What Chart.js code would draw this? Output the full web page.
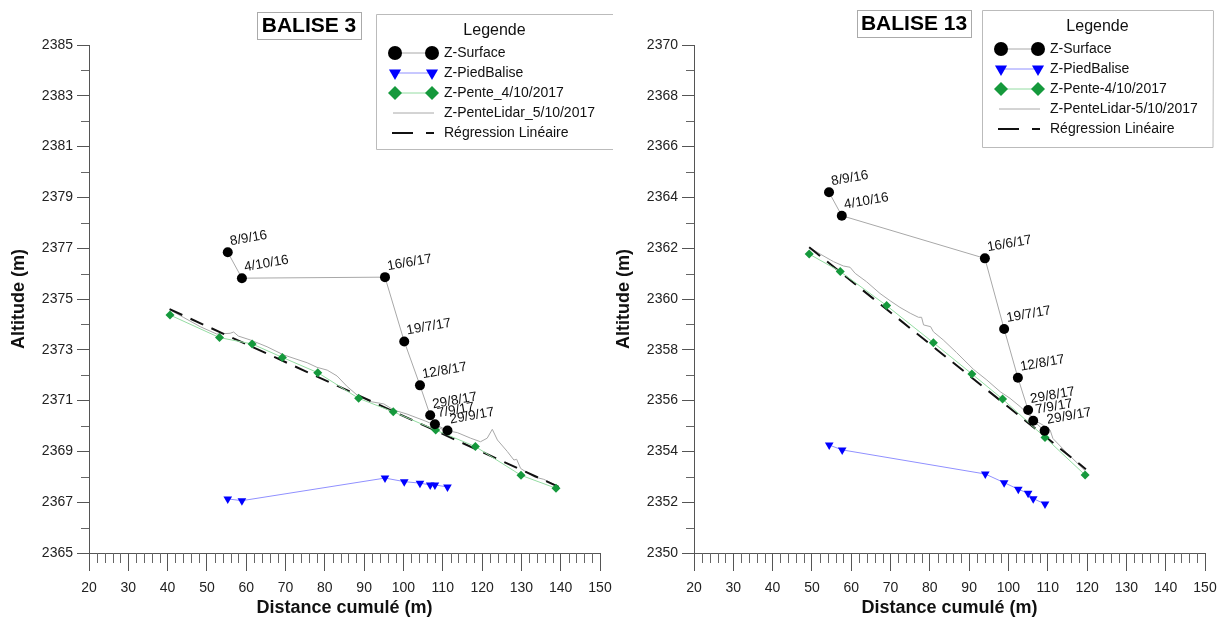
<!DOCTYPE html>
<html>
<head>
<meta charset="utf-8">
<script src="https://cdn.jsdelivr.net/npm/chart.js@4.4.1/dist/chart.umd.min.js"></script>
<style>
  body { margin: 0; background: #fff; }
  #wrap { position: relative; width: 1223px; height: 617px; overflow: hidden; }
  canvas { position: absolute; top: 0; }
</style>
</head>
<body>
<div id="wrap">
  <canvas id="balise3" width="621" height="617" style="left:0"></canvas>
  <canvas id="balise13" width="621" height="617" style="left:605px"></canvas>
</div>
<script>
// dates des relevés de surface (mêmes pour les deux balises)
const dates = ['8/9/16', '4/10/16', '16/6/17', '19/7/17', '12/8/17', '29/8/17', '7/9/17', '29/9/17'];

// ---- BALISE 3 ----
const b3SurfX = [55.3, 58.9, 95.3, 100.2, 104.2, 106.8, 108.0, 111.2];
const b3SurfY = [2376.84, 2375.82, 2375.86, 2373.33, 2371.60, 2370.42, 2370.07, 2369.82];
const b3PiedX = [55.3, 58.9, 95.3, 100.2, 104.2, 106.8, 108.0, 111.2];
const b3PiedY = [2367.13, 2367.06, 2367.95, 2367.81, 2367.75, 2367.68, 2367.68, 2367.60];
const b3PenteX = [40.6, 53.2, 61.5, 69.2, 78.2, 88.6, 97.4, 108.2, 118.3, 129.9, 138.8];
const b3PenteY = [2374.37, 2373.48, 2373.23, 2372.70, 2372.10, 2371.09, 2370.56, 2369.84, 2369.19, 2368.06, 2367.55];
const b3LidarX = [40.6, 44.0, 48.3, 52.5, 55.9, 56.8, 58.0, 61.0, 65.3, 69.5, 75.5, 78.0, 80.6, 83.1, 85.7, 88.2, 91.6, 95.0,
                  97.5, 100.9, 106.0, 110.3, 113.7, 117.1, 119.6, 121.3, 122.6, 123.9, 126.4, 128.1, 128.8, 129.8, 131.1, 133.2, 135.7, 139.2];
const b3LidarY = [2374.57, 2374.28, 2373.91, 2373.62, 2373.65, 2373.70, 2373.54, 2373.39, 2373.12, 2372.80, 2372.49, 2372.31, 2372.20,
                  2371.97, 2371.55, 2371.22, 2370.96, 2370.87, 2370.63, 2370.47, 2370.17, 2369.84, 2369.74, 2369.52, 2369.38, 2369.52,
                  2369.87, 2369.45, 2369.00, 2368.66, 2368.69, 2368.33, 2368.20, 2368.00, 2367.90, 2367.64];
const b3RegX = [40.5, 139.5];
const b3RegY = [2374.6, 2367.6];

// ---- BALISE 13 ----
const b13SurfX = [54.35, 57.6, 94.0, 98.9, 102.4, 105.0, 106.3, 109.2];
const b13SurfY = [2364.20, 2363.28, 2361.60, 2358.82, 2356.90, 2355.63, 2355.21, 2354.81];
const b13PiedX = [54.4, 57.7, 94.1, 98.9, 102.5, 105.0, 106.3, 109.3];
const b13PiedY = [2354.25, 2354.06, 2353.11, 2352.77, 2352.51, 2352.35, 2352.14, 2351.93];
const b13PenteX = [49.3, 57.2, 69.0, 80.9, 90.7, 98.5, 109.3, 119.5];
const b13PenteY = [2361.77, 2361.08, 2359.74, 2358.28, 2357.05, 2356.06, 2354.55, 2353.07];
const b13LidarX = [49.3, 52.1, 55.5, 58.0, 59.7, 61.0, 63.9, 67.3, 69.9, 72.4, 75.0, 77.1, 77.9, 78.4, 80.2, 80.9, 83.4, 86.8,
                   91.1, 94.5, 97.9, 100.4, 103.0, 106.3, 109.7, 110.6, 111.3, 114.8, 119.5];
const b13LidarY = [2362.04, 2361.77, 2361.47, 2361.30, 2361.25, 2361.01, 2360.68, 2360.22, 2359.93, 2359.67, 2359.44, 2359.28,
                   2359.28, 2358.98, 2358.91, 2358.71, 2358.39, 2357.89, 2357.23, 2356.81, 2356.35, 2356.09, 2355.76, 2355.26,
                   2354.95, 2354.84, 2354.51, 2353.95, 2353.24];
const b13RegX = [49.3, 119.7];
const b13RegY = [2362.04, 2353.3];

const FONT = '"Liberation Sans", Arial, sans-serif';
Chart.defaults.font.family = FONT;

function pts(xs, ys) {
  return xs.map((x, i) => ({ x: x, y: ys[i] }));
}

// petits traits secondaires sur les axes
const minorTicks = {
  id: 'minorTicks',
  afterDraw(chart) {
    const ctx = chart.ctx, xs = chart.scales.x, ys = chart.scales.y;
    ctx.save();
    ctx.strokeStyle = '#666';
    ctx.lineWidth = 1;
    ctx.beginPath();
    for (let v = xs.min + 2; v < xs.max; v += 2) {
      if (v % 10 === 0) continue;
      const px = Math.round(xs.getPixelForValue(v)) + 0.5;
      ctx.moveTo(px, xs.top);
      ctx.lineTo(px, xs.top + 10);
    }
    for (let v = ys.min + 1; v < ys.max; v += 2) {
      const py = Math.round(ys.getPixelForValue(v)) + 0.5;
      ctx.moveTo(ys.right - 8, py);
      ctx.lineTo(ys.right, py);
    }
    ctx.stroke();
    ctx.restore();
  }
};

// dates à côté des points Z-Surface
const dateLabels = {
  id: 'dateLabels',
  afterDatasetsDraw(chart, args, o) {
    const meta = chart.getDatasetMeta(0);
    const ctx = chart.ctx;
    ctx.save();
    ctx.font = '13.5px ' + FONT;
    ctx.fillStyle = '#111';
    ctx.textAlign = 'left';
    ctx.textBaseline = 'alphabetic';
    meta.data.forEach((pt, i) => {
      ctx.save();
      ctx.translate(pt.x + 3, pt.y - 7);
      ctx.rotate(-10 * Math.PI / 180);
      ctx.fillText(o.labels[i], 0, 0);
      ctx.restore();
    });
    ctx.restore();
  }
};

// titre encadré + légende
const overlay = {
  id: 'overlay',
  afterDraw(chart, args, o) {
    const ctx = chart.ctx;
    const ds = chart.data.datasets;
    ctx.save();
    // titre
    const t = o.titleBox;
    ctx.fillStyle = '#fff';
    ctx.strokeStyle = '#aaa';
    ctx.lineWidth = 1;
    ctx.fillRect(t.x, t.y, t.w, t.h);
    ctx.strokeRect(t.x + 0.5, t.y + 0.5, t.w, t.h);
    ctx.fillStyle = '#000';
    ctx.font = 'bold 21px ' + FONT;
    ctx.textAlign = 'center';
    ctx.textBaseline = 'middle';
    ctx.fillText(o.title, t.x + t.w / 2, t.y + t.h / 2 + 1);

    // légende
    const b = o.legendBox;
    ctx.fillStyle = '#fff';
    ctx.fillRect(b.x, b.y, b.w, b.h);
    ctx.strokeStyle = '#bbb';
    ctx.beginPath();
    ctx.moveTo(b.x + b.w, b.y + 0.5);
    ctx.lineTo(b.x + 0.5, b.y + 0.5);
    ctx.lineTo(b.x + 0.5, b.y + b.h + 0.5);
    ctx.lineTo(b.x + b.w, b.y + b.h + 0.5);
    if (o.rightBorder) ctx.lineTo(b.x + b.w + 0.5, b.y + 0.5);
    ctx.stroke();

    ctx.fillStyle = '#111';
    ctx.font = '16px ' + FONT;
    ctx.fillText('Legende', b.x + b.w / 2, b.y + 17);

    ctx.font = '14px ' + FONT;
    ctx.textAlign = 'left';
    o.order.forEach((idx, k) => {
      const d = ds[idx];
      const y = b.y + 39 + k * 20;
      const x1 = b.x + 19, x2 = b.x + 56;
      ctx.save();
      ctx.strokeStyle = d.borderColor;
      ctx.lineWidth = d.borderWidth;
      if (d.borderDash) {
        ctx.beginPath();
        ctx.moveTo(b.x + 16, y); ctx.lineTo(b.x + 37, y);
        ctx.moveTo(b.x + 50, y); ctx.lineTo(b.x + 58, y);
        ctx.stroke();
      } else {
        ctx.beginPath();
        ctx.moveTo(x1 - (d.pointRadius ? 0 : 2), y);
        ctx.lineTo(x2 + (d.pointRadius ? 0 : 2), y);
        ctx.stroke();
      }
      if (d.pointRadius) {
        ctx.fillStyle = d.pointBackgroundColor;
        ctx.strokeStyle = d.pointBackgroundColor;
        const st = { pointStyle: d.pointStyle, rotation: d.pointRotation || 0, radius: d.legendRadius, borderWidth: 0 };
        Chart.helpers.drawPoint(ctx, st, x1, y);
        Chart.helpers.drawPoint(ctx, st, x2, y);
      }
      ctx.restore();
      ctx.fillStyle = '#111';
      ctx.textBaseline = 'middle';
      ctx.fillText(d.label, b.x + 68, y);
    });
    ctx.restore();
  }
};

function makeChart(id, c) {
  const datasets = [
    { label: 'Z-Surface', data: pts(c.surfX, c.surfY), showLine: true, borderColor: '#a8a8a8', borderWidth: 1,
      pointStyle: 'circle', pointRadius: 5, legendRadius: 7, pointBackgroundColor: '#000', pointBorderWidth: 0 },
    { label: 'Z-PiedBalise', data: pts(c.piedX, c.piedY), showLine: true, borderColor: '#9090ff', borderWidth: 1,
      pointStyle: 'triangle', pointRotation: 180, pointRadius: 5, legendRadius: 7, pointBackgroundColor: '#0000ff', pointBorderWidth: 0 },
    { label: c.penteLabel, data: pts(c.penteX, c.penteY), showLine: true, borderColor: '#94dca2', borderWidth: 1,
      pointStyle: 'rectRot', pointRadius: 4.5, legendRadius: 7, pointBackgroundColor: '#15993c', pointBorderWidth: 0 },
    { label: 'Régression Linéaire', data: pts(c.regX, c.regY), showLine: true, borderColor: '#111', borderWidth: 2,
      borderDash: [14, 9], pointRadius: 0 },
    { label: c.lidarLabel, data: pts(c.lidarX, c.lidarY), showLine: true, borderColor: '#a8a8a8', borderWidth: 1,
      pointRadius: 0 }
  ];

  return new Chart(document.getElementById(id), {
    type: 'scatter',
    data: { datasets: datasets },
    options: {
      responsive: false,
      animation: false,
      events: [],
      layout: { padding: { top: 45, right: 21, left: 0, bottom: 0 } },
      scales: {
        x: {
          type: 'linear', min: 20, max: 150,
          ticks: { stepSize: 10, color: '#222', font: { size: 14 }, padding: 9, callback: v => String(v) },
          grid: { drawOnChartArea: false, tickLength: 18, tickColor: '#555' },
          border: { color: '#555' },
          title: { display: true, text: 'Distance cumulé (m)', color: '#111', font: { size: 18, weight: 'bold' }, padding: { top: 0, bottom: -2 } },
          afterFit: s => { s.height = 64; }
        },
        y: {
          type: 'linear', min: c.yMin, max: c.yMax,
          ticks: { stepSize: 2, color: '#222', font: { size: 14 }, padding: 4, callback: v => String(v) },
          grid: { drawOnChartArea: false, tickLength: 12, tickColor: '#555' },
          border: { color: '#555' },
          title: { display: true, text: 'Altitude (m)', color: '#111', font: { size: 18, weight: 'bold' }, padding: { top: 8, bottom: 0 } },
          afterFit: s => { s.width = 89; }
        }
      },
      plugins: {
        legend: { display: false },
        tooltip: { enabled: false },
        dateLabels: { labels: dates },
        overlay: {
          title: c.title, titleBox: c.titleBox, legendBox: c.legendBox,
          rightBorder: c.rightBorder, order: [0, 1, 2, 4, 3]
        }
      }
    },
    plugins: [minorTicks, dateLabels, overlay]
  });
}

makeChart('balise3', {
  title: 'BALISE 3', yMin: 2365, yMax: 2385,
  surfX: b3SurfX, surfY: b3SurfY, piedX: b3PiedX, piedY: b3PiedY,
  penteX: b3PenteX, penteY: b3PenteY, lidarX: b3LidarX, lidarY: b3LidarY,
  regX: b3RegX, regY: b3RegY,
  penteLabel: 'Z-Pente_4/10/2017', lidarLabel: 'Z-PenteLidar_5/10/2017',
  titleBox: { x: 257, y: 12, w: 104, h: 27 },
  legendBox: { x: 376, y: 14, w: 237, h: 135 }, rightBorder: false
});

makeChart('balise13', {
  title: 'BALISE 13', yMin: 2350, yMax: 2370,
  surfX: b13SurfX, surfY: b13SurfY, piedX: b13PiedX, piedY: b13PiedY,
  penteX: b13PenteX, penteY: b13PenteY, lidarX: b13LidarX, lidarY: b13LidarY,
  regX: b13RegX, regY: b13RegY,
  penteLabel: 'Z-Pente-4/10/2017', lidarLabel: 'Z-PenteLidar-5/10/2017',
  titleBox: { x: 252, y: 10, w: 114, h: 27 },
  legendBox: { x: 377, y: 10, w: 231, h: 137 }, rightBorder: true
});
</script>
</body>
</html>
